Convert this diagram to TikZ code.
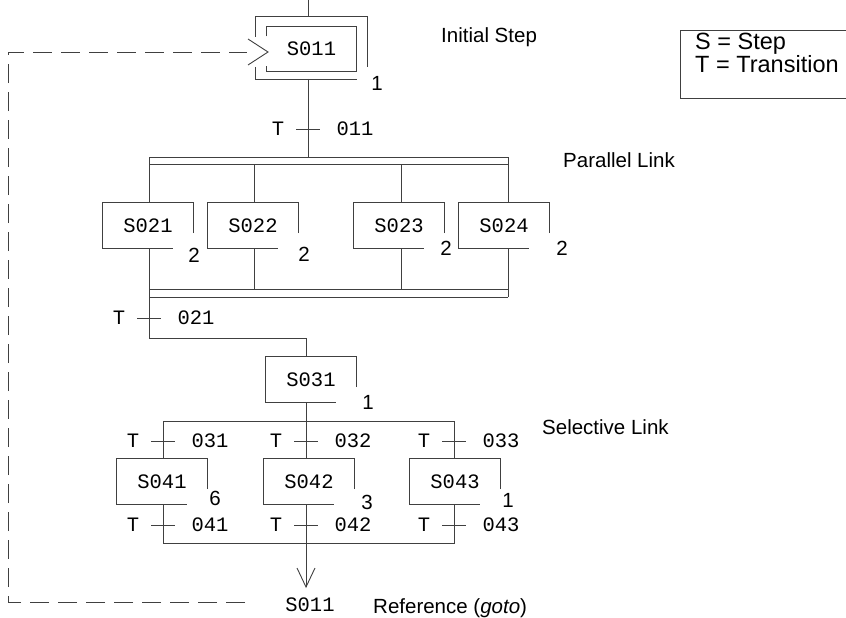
\documentclass[tikz,border=0pt]{standalone}
\usepackage{fontspec}
\setmainfont{Liberation Sans}
\setmonofont{Liberation Mono}
\newcommand\stp[7]{%
  \node[stepbox] (#1) at (#2,#3) {#4};
  \draw[ln] ([yshift=15pt]#1.south east) -- (#1.north east) -- (#1.north west) -- (#1.south west) -- ([xshift=-20pt]#1.south east);
  \node[num] (#1n) at (#6,#7) {#5};
}
\newcommand\trn[4]{%
  \coordinate (#1) at (#2,#3);
  \draw[ln] ([xshift=-12pt]#1) -- ([xshift=12pt]#1);
  \node[mono] (#1T) at ([xshift=-30pt]#1) {T};
  \node[mono] (#1N) at ([xshift=47pt]#1) {#4};
}
\begin{document}
\begin{tikzpicture}[x=1pt,y=-1pt,
  ln/.style={line width=0.9pt, draw=black!75},
  dsh/.style={ln, dash pattern=on 19pt off 9pt},
  stepbox/.style={minimum width=90pt, minimum height=45pt, inner sep=0pt, font=\ttfamily\fontsize{20.5}{24}\selectfont},
  num/.style={font=\fontsize{20.5}{24}\selectfont, inner sep=0pt},
  mono/.style={font=\ttfamily\fontsize{20.5}{24}\selectfont, inner sep=0pt},
  lbl/.style={font=\fontsize{20.5}{24}\selectfont, inner sep=0pt, anchor=base west},
  leg/.style={font=\fontsize{23.5}{27}\selectfont, inner sep=0pt, anchor=base west},
]
\useasboundingbox (0,0) rectangle (846,618);

% ---------- initial step ----------
\node[stepbox] (S011) at (311.5,49) {S011};
\draw[ln] ([yshift=-10pt]S011.north west) -- (S011.north west) -- (S011.north east) -- (S011.south east) -- (S011.south west) -- ([yshift=6pt]S011.south west);
\draw[ln] (255,37) -- (255,16) -- (367,16) -- (367,67);
\draw[ln] (255,67) -- (255,79) -- (357,79);
\node[num] (S011n) at (377,83) {1};
\coordinate (in0) at (308,0);
\coordinate (in1) at (308,16);
\draw[ln] (in0) -- (in1);
\coordinate (out1) at (308,79);
\coordinate (p1c) at (308,157);
\draw[ln] (out1) -- (p1c);
\trn{T011}{308}{129}{011}

% ---------- goto reference ----------
\coordinate (gtip) at (268,52);
\draw[ln] (248,39) -- (gtip) -- (248,65);
\node[mono] (ref) at (310,605) {S011};
\draw[dsh] (245,602) -- (8,602) -- (8,52) -- (247,52);

% ---------- parallel link ----------
\draw[ln] (149,157) -- (508,157);
\draw[ln] (149,164) -- (508,164);
\stp{S021}{148}{225.5}{S021}{2}{194}{255}
\stp{S022}{253}{225.5}{S022}{2}{304}{254}
\stp{S023}{399}{225.5}{S023}{2}{446}{248}
\stp{S024}{504}{225.5}{S024}{2}{562}{248}
\draw[ln] (149,157) -- (149,0 |- S021.north);
\draw[ln] (254,164) -- (254,0 |- S022.north);
\draw[ln] (401,164) -- (401,0 |- S023.north);
\draw[ln] (508,157) -- (508,0 |- S024.north);
\draw[ln] (149,289) -- (508,289);
\draw[ln] (149,297) -- (508,297);
\draw[ln] (149,0 |- S021.south) -- (149,338);
\draw[ln] (254,0 |- S022.south) -- (254,289);
\draw[ln] (401,0 |- S023.south) -- (401,289);
\draw[ln] (508,0 |- S024.south) -- (508,297);
\trn{T021}{149}{318}{021}

% ---------- S031 ----------
\stp{S031}{311}{379.5}{S031}{1}{368}{402}
\draw[ln] (149,338) -- (306,338) -- (306,0 |- S031.north);
\draw[ln] (306,0 |- S031.south) -- (306,421);

% ---------- selective link ----------
\draw[ln] (163,421) -- (454,421);
\stp{S041}{162}{481.5}{S041}{6}{215}{498}
\stp{S042}{309}{481.5}{S042}{3}{367}{502}
\stp{S043}{455}{481.5}{S043}{1}{508}{500}
\draw[ln] (163,421) -- (163,0 |- S041.north);
\draw[ln] (306,421) -- (306,0 |- S042.north);
\draw[ln] (454,421) -- (454,0 |- S043.north);
\trn{T031}{163}{441}{031}
\trn{T032}{306}{441}{032}
\trn{T033}{454}{441}{033}
\draw[ln] (163,0 |- S041.south) -- (163,543) -- (454,543) -- (454,0 |- S043.south);
\coordinate (atip) at (306,587);
\draw[ln] (306,0 |- S042.south) -- (atip);
\draw[ln] (297,568) -- (atip) -- (315,568);
\trn{T041}{163}{525}{041}
\trn{T042}{306}{525}{042}
\trn{T043}{454}{525}{043}

% ---------- labels ----------
\node[lbl] (l1) at (441,43) {Initial Step};
\node[lbl] (l2) at (563,167) {Parallel Link};
\node[lbl] (l3) at (542,434) {Selective Link};
\node[lbl] (l4) at (373,613) {Reference (\textit{goto})};

% ---------- legend ----------
\draw[ln] (850,30) -- (680,30) -- (680,98) -- (850,98);
\node[leg] (g1) at (695,49) {S = Step};
\node[leg] (g2) at (695,73) {T = Transition};
\end{tikzpicture}
\end{document}
